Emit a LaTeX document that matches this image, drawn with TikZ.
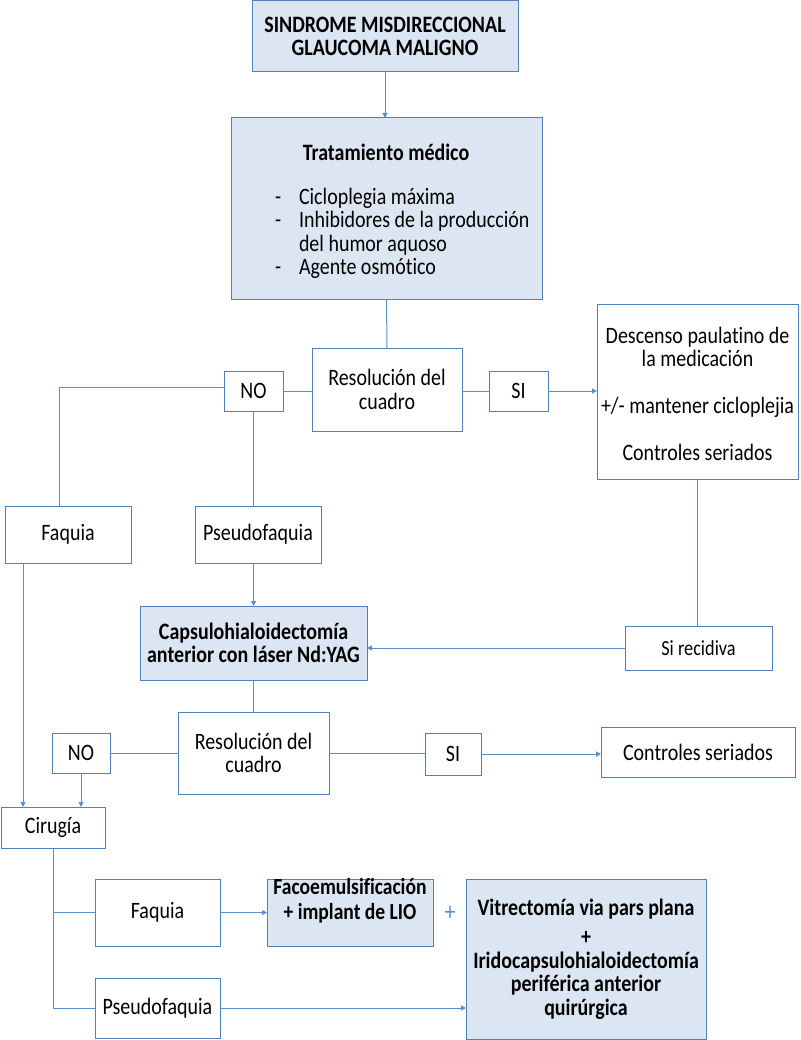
\documentclass[tikz,border=0pt]{standalone}
\usepackage{fontspec}
\setmainfont{Carlito}[FakeStretch=0.85,Ligatures=NoCommon]
\usetikzlibrary{arrows.meta}
\definecolor{boxline}{RGB}{79,129,189}
\definecolor{conn}{RGB}{91,143,201}
\definecolor{boxfill}{RGB}{220,230,242}
\begin{document}
\begin{tikzpicture}[x=1pt,y=-1pt,
  every node/.style={font=\fontsize{23.5}{23.5}\selectfont, inner sep=0pt, outer sep=0pt},
  box/.style={draw=boxline, line width=1pt, rectangle, align=center},
  fbox/.style={box, fill=boxfill, font=\fontsize{23.5}{23.5}\selectfont\bfseries},
  conline/.style={draw=conn, line width=1pt},
  arr/.style={conline, -{Triangle[length=5pt,width=5pt]}},
  bline/.style={anchor=base west}]
\useasboundingbox (0,0) rectangle (800,1040);

% nodes
\node[fbox, minimum width=266pt, minimum height=71pt] (top) at (385,36.5) {SINDROME MISDIRECCIONAL\\GLAUCOMA MALIGNO};
\node[fbox, minimum width=311pt, minimum height=181pt] (trat) at (386.5,208.5) {};
\node[font=\fontsize{23.5}{23.5}\selectfont\bfseries] (tt) at (386,152) {Tratamiento médico};
\node[bline] (d1) at (275,205) {-};
\node[bline] (d2) at (275,228) {-};
\node[bline] (d4) at (275,275) {-};
\node[bline] (l1) at (299,205) {Cicloplegia máxima};
\node[bline] (l2) at (299,228) {Inhibidores de la producción};
\node[bline] (l3) at (299,252) {del humor aquoso};
\node[bline] (l4) at (299,275) {Agente osmótico};

\node[box, minimum width=150pt, minimum height=83pt] (res1) at (387,389.5) {Resolución del\\cuadro};
\node[box, minimum width=59pt, minimum height=40pt] (no1) at (253.5,391) {NO};
\node[box, minimum width=59pt, minimum height=40pt] (si1) at (518.5,391) {SI};
\node[box, minimum width=201pt, minimum height=175pt] (desc) at (697.5,391.5) {};
\node[align=center] (desct) at (697.5,394) {Descenso paulatino de\\la medicación\\[23.5pt]+/- mantener cicloplejia\\[23.5pt]Controles seriados};

\node[box, minimum width=126pt, minimum height=57pt] (faq1) at (68,534.5) {Faquia};
\node[box, minimum width=126pt, minimum height=57pt] (pse1) at (258,534.5) {Pseudofaquia};
\node[fbox, minimum width=227pt, minimum height=74pt] (cap) at (253.5,643) {Capsulohialoidectomía\\anterior con láser Nd:YAG};
\node[box, minimum width=147pt, minimum height=44pt, font=\fontsize{21.5}{21.5}\selectfont] (rec) at (698.5,648) {Si recidiva};

\node[box, minimum width=151pt, minimum height=82pt] (res2) at (253.5,753) {Resolución del\\cuadro};
\node[box, minimum width=58pt, minimum height=40pt] (no2) at (81,753) {NO};
\node[box, minimum width=56pt, minimum height=42pt] (si2) at (453,754) {SI};
\node[box, minimum width=194pt, minimum height=50pt] (ctrl) at (698,752) {Controles seriados};

\node[box, minimum width=104pt, minimum height=41pt] (cir) at (53,827.5) {Cirugía};
\node[box, minimum width=125pt, minimum height=67pt] (faq2) at (157.5,912.5) {Faquia};
\node[box, minimum width=125pt, minimum height=60pt] (pse2) at (157.5,1008) {Pseudofaquia};
\node[fbox, minimum width=166pt, minimum height=67pt] (faco) at (350,912.5) {};
\node[align=center, font=\fontsize{23}{24.5}\selectfont\bfseries] (facot) at (350,900.5) {Facoemulsificación\\+ implant de LIO};
\node[text=conn, font=\fontsize{26}{28}\selectfont] (plus) at (450,913) {+};
\node[fbox, minimum width=240pt, minimum height=160pt] (vit) at (586,959) {Vitrectomía via pars plana\\[6pt]+\\Iridocapsulohialoidectomía\\periférica anterior\\quirúrgica};

% connectors
\draw[arr] (top.south) -- (top.south |- trat.north);
\draw[conline] (trat.south) -- (res1.north);
\draw[conline] (res1.west |- no1.east) -- (no1.east);
\draw[conline] ([yshift=4pt]no1.west) -| ([xshift=-9pt]faq1.north);
\draw[conline] (no1.south) -- (no1.south |- pse1.north);
\draw[conline] (res1.east |- si1.west) -- (si1.west);
\draw[arr] (si1.east) -- (si1.east -| desc.west);
\draw[arr] (cap.north |- pse1.south) -- (cap.north);
\draw[conline] (desc.south) -- (desc.south |- rec.north);
\draw[arr] (rec.west) -- (rec.west -| cap.east);
\draw[conline] (cap.south) -- (res2.north);
\draw[conline] (res2.west) -- (no2.east);
\draw[conline] (res2.east) -- (res2.east -| si2.west);
\draw[arr] (si2.east) -- (si2.east -| ctrl.west);
\draw[arr] ([xshift=-45pt]faq1.south) -- ([xshift=-45pt]faq1.south |- cir.north);
\draw[arr] (no2.south) -- (no2.south |- cir.north);
\draw[conline] (cir.south) |- (faq2.west);
\draw[conline] (cir.south) |- (pse2.west);
\draw[arr] (faq2.east) -- (faco.west);
\draw[arr] (pse2.east) -- (pse2.east -| vit.west);
\end{tikzpicture}
\end{document}
